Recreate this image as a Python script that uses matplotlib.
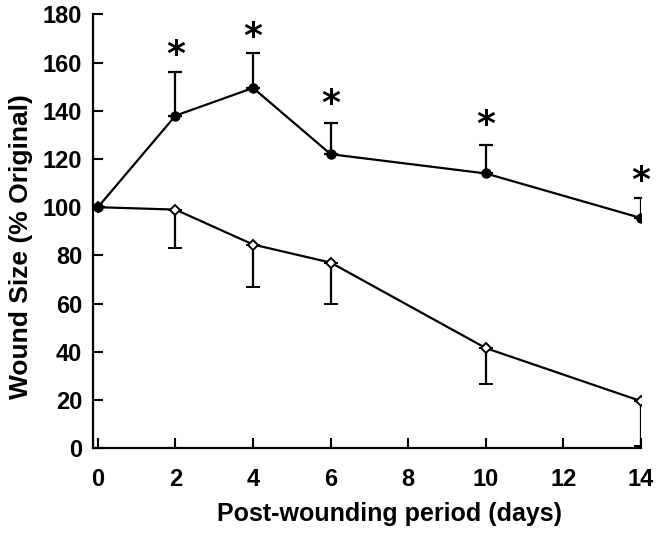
import matplotlib
matplotlib.use("Agg")
import matplotlib.pyplot as plt

days = [0, 2, 4, 6, 10, 14]

# treated (filled circles), upper error only
top_mean = [100, 138, 149.5, 122, 114, 95.5]
top_err = [0, 18, 14.5, 13, 12, 8.5]

# control (open diamonds), lower error only
bot_mean = [100, 99, 84.5, 77, 41.5, 19.5]
bot_err = [0, 16, 17.5, 17, 15, 18.5]

star_days = [2, 4, 6, 10, 14]
star_y = [163, 170.5, 143, 134, 111]

plt.rcParams['font.family'] = ['Liberation Sans', 'DejaVu Sans']
plt.rcParams['font.weight'] = 'bold'

fig = plt.figure(figsize=(6.66, 5.36), dpi=100)
ax = fig.add_axes([0.140, 0.164, 0.8225, 0.809])

# control first so the filled circle sits on top at day 0
ax.errorbar(days, bot_mean, yerr=[bot_err, [0] * 6], fmt='-D', color='black',
            mfc='white', mec='black', mew=1.4, lw=1.6, ms=5.5, capsize=5,
            capthick=1.6, elinewidth=1.6, zorder=3)
ax.errorbar(days, top_mean, yerr=[[0] * 6, top_err], fmt='-o', color='black',
            lw=1.6, ms=6.5, capsize=5, capthick=1.6, elinewidth=1.6, zorder=4)

for d, y in zip(star_days, star_y):
    ax.text(d, y, '*', ha='center', va='center', fontsize=26, fontweight='bold',
            family='DejaVu Sans')

ax.set_xlim(-0.12, 14.0)
ax.set_ylim(0, 180)
ax.set_xticks(range(0, 15, 2))
ax.set_yticks(range(0, 181, 20))
ax.spines['top'].set_visible(False)
ax.spines['right'].set_visible(False)
ax.spines['left'].set_linewidth(1.6)
ax.spines['bottom'].set_linewidth(1.6)
ax.tick_params(direction='in', length=7, width=1.5, labelsize=17)
ax.tick_params(axis='y', pad=8)
ax.tick_params(axis='x', pad=14)
for lab in ax.get_xticklabels() + ax.get_yticklabels():
    lab.set_fontweight('bold')

ax.set_xlabel('Post-wounding period (days)', fontsize=18, fontweight='bold')
ax.set_ylabel('Wound Size (% Original)', fontsize=19, fontweight='bold')
ax.xaxis.set_label_coords(0.54, -0.125)
ax.yaxis.set_label_coords(-0.11, 0.465)

fig.savefig('out.png', dpi=100)
